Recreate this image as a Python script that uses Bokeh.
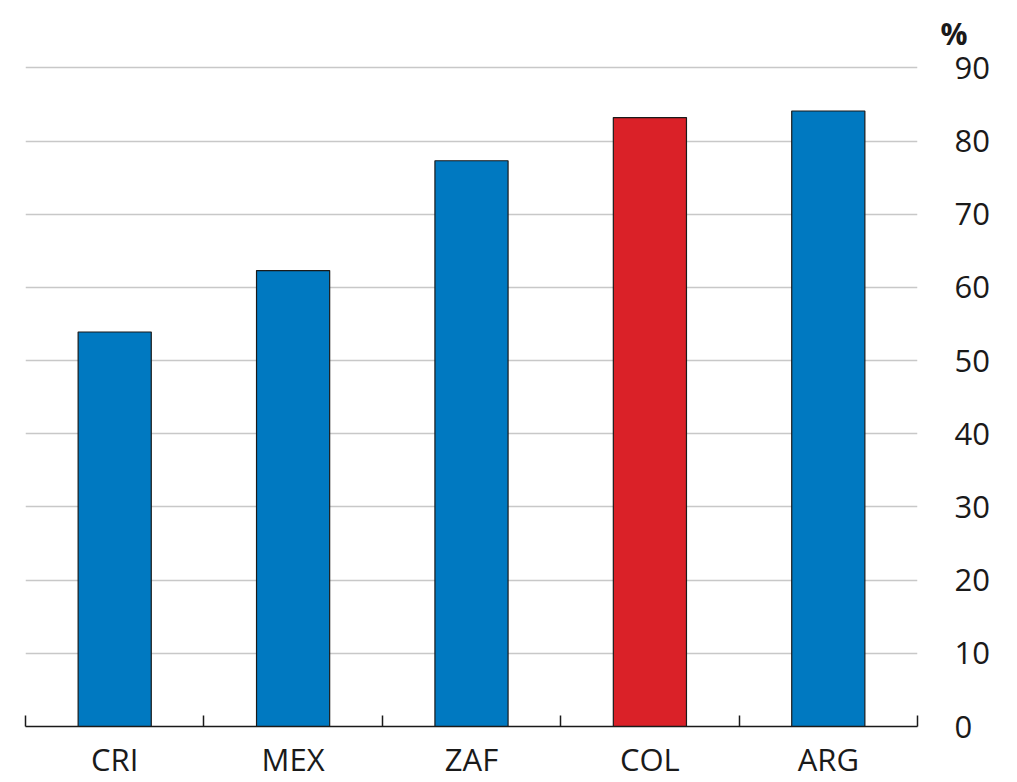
from bokeh.plotting import figure
from bokeh.models import (Range1d, LinearAxis, FixedTicker, Title, ColumnDataSource)
from bokeh.embed import file_html
from bokeh.resources import INLINE

countries = ["CRI", "MEX", "ZAF", "COL", "ARG"]
values = [53.9, 62.3, 77.3, 83.2, 84.1]
colors = ["#0079C1", "#0079C1", "#0079C1", "#DA2128", "#0079C1"]
y_ticks = [0, 10, 20, 30, 40, 50, 60, 70, 80, 90]
unit_label = "%"

FONT = "Open Sans"
n = len(countries)
centers = [i + 0.5 for i in range(n)]
bounds = list(range(n + 1))

p = figure(width=1000, height=782, x_range=Range1d(0, n),
           y_range=Range1d(0, 91), output_backend="svg", toolbar_location=None,
           x_axis_location=None, y_axis_location=None,
           min_border_left=25, min_border_right=83, min_border_top=60, min_border_bottom=56)
p.outline_line_color = None
p.background_fill_color = "white"
p.border_fill_color = "white"
p.xgrid.grid_line_color = None
p.ygrid.grid_line_color = "#C8C8C8"
p.ygrid.grid_line_width = 1.5
p.ygrid.ticker = FixedTicker(ticks=y_ticks[1:])

src = ColumnDataSource(dict(x=centers, top=values, color=colors, name=countries))
p.vbar(x="x", top="top", width=0.41, source=src, fill_color="color",
       line_color="#1a1a1a", line_width=1.2)

# right value axis
yax = LinearAxis(ticker=FixedTicker(ticks=y_ticks))
yax.axis_line_color = None
yax.major_tick_line_color = None
yax.minor_tick_line_color = None
yax.major_label_standoff = 31
yax.major_label_text_font = FONT
yax.major_label_text_font_size = "31px"
yax.major_label_text_color = "#1a1a1a"
yax.major_label_text_align = "left"
p.add_layout(yax, "right")

# category axis: labels at centres, boundary ticks as minor ticks
cax = LinearAxis(ticker=FixedTicker(ticks=centers, minor_ticks=bounds),
                 major_label_overrides={c: name for c, name in zip(centers, countries)})
cax.axis_line_color = "#1a1a1a"
cax.axis_line_width = 1.5
cax.major_tick_line_color = None
cax.minor_tick_line_color = "#1a1a1a"
cax.minor_tick_line_width = 1.5
cax.minor_tick_in = 11
cax.minor_tick_out = 0
cax.major_label_standoff = 5
cax.major_label_text_font = FONT
cax.major_label_text_font_size = "31px"
cax.major_label_text_color = "#1a1a1a"
p.add_layout(cax, "below")

p.add_layout(Title(text=unit_label, align="right", offset=-50, standoff=14,
                   text_font=FONT, text_font_size="30px", text_font_style="bold",
                   text_color="#1a1a1a"), "above")

open("out.html", "w").write(file_html(p, INLINE))
